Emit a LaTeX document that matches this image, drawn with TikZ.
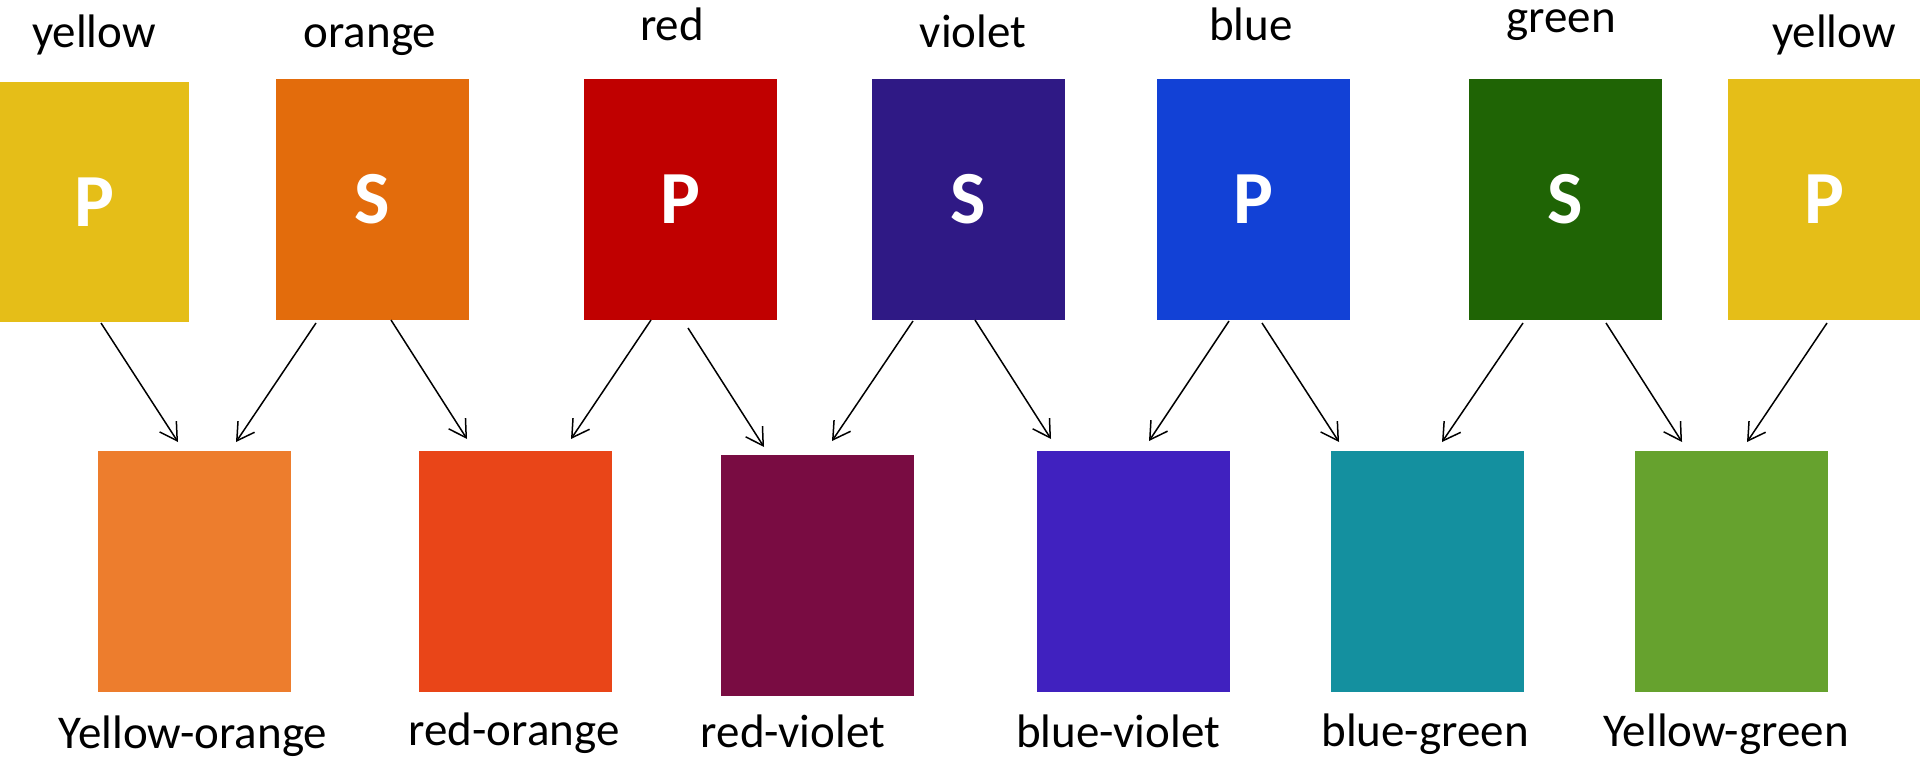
\documentclass[tikz,border=0pt]{standalone}
\usepackage{fontspec}
\setmainfont{Carlito}
\usetikzlibrary{arrows.meta}
\definecolor{cyellow}{HTML}{E5BE18}
\definecolor{corange}{HTML}{E36C0C}
\definecolor{cred}{HTML}{C00000}
\definecolor{cviolet}{HTML}{2F1985}
\definecolor{cblue}{HTML}{1241D6}
\definecolor{cgreen}{HTML}{1F6405}
\definecolor{cyo}{HTML}{ED7D2D}
\definecolor{cro}{HTML}{E94518}
\definecolor{crv}{HTML}{790C42}
\definecolor{cbv}{HTML}{4021BF}
\definecolor{cbg}{HTML}{14909F}
\definecolor{cyg}{HTML}{66A22E}
\begin{document}
\begin{tikzpicture}[x=0.5pt,y=-0.5pt,
  swatch/.style={draw=none,inner sep=0pt,outer sep=0pt,anchor=north west,
    minimum width=96.5pt,minimum height=120.5pt,text=white,
    font=\fontsize{37.5}{40}\selectfont\bfseries},
  lbl/.style={inner sep=0pt,anchor=base,font=\fontsize{23.5}{28}\selectfont},
  arr/.style={line width=0.75pt,-{Straight Barb[length=8.5pt,width=10pt,line width=0.75pt]}}]
\useasboundingbox (0,0) rectangle (1920,759);
% top row
\node[swatch,fill=cyellow,minimum width=94.5pt,minimum height=120pt] (y1) at (0,82) {P};
\node[swatch,fill=corange] (or) at (276,79) {S};
\node[swatch,fill=cred] (rd) at (584,79) {P};
\node[swatch,fill=cviolet] (vi) at (872,79) {S};
\node[swatch,fill=cblue] (bl) at (1157,79) {P};
\node[swatch,fill=cgreen] (gr) at (1469,79) {S};
\node[swatch,fill=cyellow] (y2) at (1728,79) {P};
% top labels
\node[lbl] (ly1) at (94,48) {yellow};
\node[lbl] (lor) at (370,48) {orange};
\node[lbl] (lrd) at (672,41) {red};
\node[lbl] (lvi) at (973,48) {violet};
\node[lbl] (lbl) at (1251,41) {blue};
\node[lbl] (lgr) at (1561,33) {green};
\node[lbl] (ly2) at (1834,48) {yellow};
% bottom row
\node[swatch,fill=cyo] (yo) at (98,451) {};
\node[swatch,fill=cro] (ro) at (419,451) {};
\node[swatch,fill=crv] (rv) at (721,455) {};
\node[swatch,fill=cbv] (bv) at (1037,451) {};
\node[swatch,fill=cbg] (bg) at (1331,451) {};
\node[swatch,fill=cyg] (yg) at (1635,451) {};
% bottom labels
\node[lbl] (lyo) at (193,748) {Yellow-orange};
\node[lbl] (lro) at (514,745) {red-orange};
\node[lbl] (lrv) at (793,747) {red-violet};
\node[lbl] (lbv) at (1118,747) {blue-violet};
\node[lbl] (lbg) at (1425,746) {blue-green};
\node[lbl] (lyg) at (1726,746) {Yellow-green};
% arrows
\draw[arr] ([shift={(101,1)}]y1.south west) -- ([shift={(80,-9)}]yo.north west);
\draw[arr] ([shift={(40,3)}]or.south west) -- ([shift={(138,-9)}]yo.north west);
\draw[arr] ([shift={(115,0)}]or.south west) -- ([shift={(48,-12)}]ro.north west);
\draw[arr] ([shift={(67,0)}]rd.south west) -- ([shift={(152,-12)}]ro.north west);
\draw[arr] ([shift={(104,8)}]rd.south west) -- ([shift={(43,-8)}]rv.north west);
\draw[arr] ([shift={(41,1)}]vi.south west) -- ([shift={(111,-14)}]rv.north west);
\draw[arr] ([shift={(103,0)}]vi.south west) -- ([shift={(14,-12)}]bv.north west);
\draw[arr] ([shift={(72,1)}]bl.south west) -- ([shift={(112,-10)}]bv.north west);
\draw[arr] ([shift={(105,3)}]bl.south west) -- ([shift={(8,-9)}]bg.north west);
\draw[arr] ([shift={(54,3)}]gr.south west) -- ([shift={(111,-9)}]bg.north west);
\draw[arr] ([shift={(137,3)}]gr.south west) -- ([shift={(47,-9)}]yg.north west);
\draw[arr] ([shift={(99,3)}]y2.south west) -- ([shift={(112,-9)}]yg.north west);
\end{tikzpicture}
\end{document}
